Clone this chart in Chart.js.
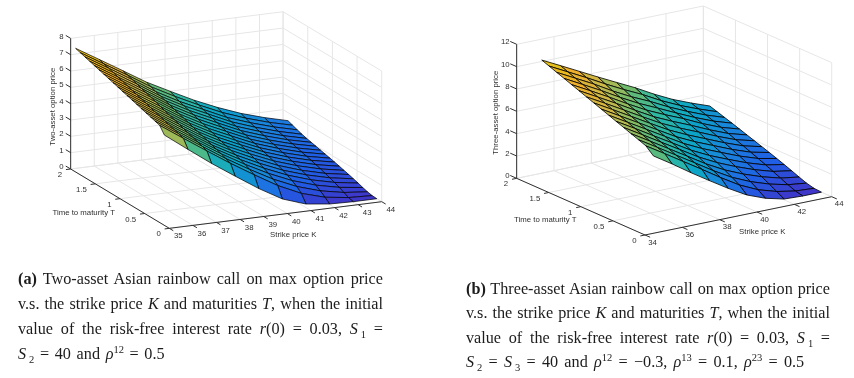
<!DOCTYPE html>
<html><head><meta charset="utf-8">
<script src="https://cdn.jsdelivr.net/npm/chart.js@4"></script>
<style>
html,body{margin:0;padding:0;background:#fff;width:854px;height:378px;overflow:hidden}
canvas{position:absolute;top:0;filter:blur(0.35px)}
#ca{left:0}#cb{left:430px}
.ln{position:absolute;font-family:"Liberation Serif",serif;font-size:16.2px;line-height:20px;color:#1c1c1c;white-space:nowrap;text-align:justify;text-align-last:justify;filter:blur(0.25px)}
.ln.last{text-align-last:left;word-spacing:1.6px}
.ln sub,.ln sup{font-size:10.5px;line-height:0}
.ln sub{margin-left:3px}
</style></head><body>
<canvas id="ca" width="427" height="258"></canvas>
<canvas id="cb" width="424" height="262"></canvas>
<div class="ln" style="left:18px;top:269px;width:365px"><b>(a)</b> Two-asset Asian rainbow call on max option price</div>
<div class="ln" style="left:18px;top:294px;width:365px">v.s. the strike price <i>K</i> and maturities <i>T</i>, when the initial</div>
<div class="ln" style="left:18px;top:319px;width:365px">value of the risk-free interest rate <i>r</i>(0) = 0.03, <i>S</i><sub>1</sub> =</div>
<div class="ln last" style="left:18px;top:344px;width:365px"><i>S</i><sub>2</sub> = 40 and <i>ρ</i><sup>12</sup> = 0.5</div>
<div class="ln" style="left:466px;top:278.5px;width:364px"><b>(b)</b> Three-asset Asian rainbow call on max option price</div>
<div class="ln" style="left:466px;top:302.5px;width:364px">v.s. the strike price <i>K</i> and maturities <i>T</i>, when the initial</div>
<div class="ln" style="left:466px;top:327.5px;width:364px">value of the risk-free interest rate <i>r</i>(0) = 0.03, <i>S</i><sub>1</sub> =</div>
<div class="ln last" style="left:466px;top:352px;width:364px;word-spacing:2.2px"><i>S</i><sub>2</sub> = <i>S</i><sub>3</sub> = 40 and <i>ρ</i><sup>12</sup> = −0.3, <i>ρ</i><sup>13</sup> = 0.1, <i>ρ</i><sup>23</sup> = 0.5</div>
<script>
// ---------- data ----------
const strikes = [35,36,37,38,39,40,41,42,43,44];
const maturitiesA = [0.1,0.195,0.289,0.384,0.479,0.574,0.668,0.763,0.858,0.953,1.047,1.142,1.237,1.332,1.426,1.521,1.616,1.711,1.805,1.9];
const maturitiesB = [0.16,0.276,0.392,0.508,0.624,0.74,0.856,0.972,1.088,1.204,1.32,1.436,1.552,1.668,1.784,1.9];
// one list per strike, one value per maturity
const priceA35 = [5.53,5.95,6.04,6.13,6.22,6.31,6.40,6.49,6.58,6.67,6.76,6.85,6.94,7.03,7.12,7.21,7.30,7.39,7.48,7.57];
const priceA36 = [4.47,4.98,5.08,5.17,5.27,5.36,5.46,5.55,5.65,5.75,5.84,5.94,6.03,6.13,6.23,6.32,6.42,6.52,6.61,6.71];
const priceA37 = [3.43,4.02,4.13,4.23,4.33,4.43,4.53,4.63,4.73,4.83,4.93,5.03,5.14,5.24,5.34,5.44,5.54,5.64,5.74,5.84];
const priceA38 = [2.47,3.08,3.20,3.32,3.42,3.52,3.62,3.72,3.82,3.92,4.02,4.12,4.22,4.32,4.42,4.52,4.62,4.72,4.84,4.96];
const priceA39 = [1.53,2.20,2.36,2.50,2.62,2.73,2.84,2.94,3.04,3.14,3.24,3.34,3.44,3.54,3.64,3.74,3.84,3.94,4.08,4.22];
const priceA40 = [0.71,1.36,1.58,1.76,1.91,2.04,2.16,2.27,2.38,2.48,2.58,2.68,2.78,2.87,2.97,3.07,3.17,3.27,3.38,3.50];
const priceA41 = [0.22,0.70,0.95,1.14,1.30,1.43,1.55,1.66,1.76,1.86,1.95,2.04,2.13,2.22,2.31,2.40,2.50,2.60,2.73,2.87];
const priceA42 = [0.04,0.28,0.50,0.68,0.83,0.96,1.07,1.18,1.28,1.37,1.46,1.55,1.63,1.72,1.81,1.90,1.99,2.09,2.20,2.32];
const priceA43 = [0,0.08,0.22,0.36,0.49,0.60,0.70,0.80,0.89,0.98,1.06,1.14,1.22,1.30,1.38,1.46,1.55,1.65,1.76,1.88];
const priceA44 = [0,0.02,0.08,0.17,0.27,0.36,0.45,0.53,0.61,0.69,0.76,0.83,0.90,0.97,1.04,1.11,1.19,1.29,1.40,1.51];
const priceB35 = [6.33,6.93,7.19,7.44,7.70,7.95,8.21,8.46,8.72,8.97,9.23,9.48,9.74,9.99,10.25,10.5];
const priceB36 = [5.27,5.90,6.17,6.44,6.71,6.98,7.24,7.51,7.78,8.05,8.32,8.59,8.85,9.12,9.39,9.66];
const priceB37 = [4.15,4.85,5.13,5.42,5.70,5.98,6.27,6.55,6.83,7.11,7.40,7.68,7.96,8.25,8.53,8.81];
const priceB38 = [3.09,3.80,4.10,4.40,4.70,4.99,5.29,5.58,5.87,6.16,6.45,6.73,7.01,7.29,7.63,7.96];
const priceB39 = [2.06,2.72,3.05,3.37,3.69,4.00,4.31,4.62,4.93,5.23,5.53,5.83,6.13,6.43,6.78,7.13];
const priceB40 = [1.12,1.72,2.11,2.48,2.84,3.18,3.51,3.83,4.15,4.46,4.77,5.07,5.37,5.67,5.99,6.31];
const priceB41 = [0.48,0.95,1.38,1.77,2.14,2.49,2.82,3.14,3.45,3.76,4.07,4.37,4.59,4.83,5.10,5.40];
const priceB42 = [0.07,0.45,0.82,1.18,1.52,1.84,2.15,2.45,2.75,3.04,3.32,3.59,3.84,4.09,4.33,4.58];
const priceB43 = [0,0.15,0.42,0.72,1.02,1.31,1.59,1.86,2.13,2.39,2.65,2.91,3.17,3.42,3.67,3.91];
const priceB44 = [0,0.05,0.22,0.47,0.74,1.00,1.25,1.49,1.72,1.95,2.18,2.41,2.64,2.86,3.08,3.30];
// tick labels
const kTicksA = [35,36,37,38,39,40,41,42,43,44];
const kTicksB = [34,36,38,40,42,44];
const tTicks = [0,0.5,1,1.5,2];
const zTicksA = [0,1,2,3,4,5,6,7,8];
const zTicksB = [0,2,4,6,8,10,12];
// ---------- colour map ----------
const parula = ['#3f35c8','#1f5fe6','#1a84dc','#0ba4c8','#2eb7a4','#6fbb6c','#c8b84a','#f0ae2a','#e0cc10'];
function rgb(h){return [1,3,5].map(i=>parseInt(h.substr(i,2),16));}
function mapColor(f){f=Math.max(0,Math.min(1,f))*(parula.length-1);const i=Math.min(parula.length-2,Math.floor(f)),a=rgb(parula[i]),b=rgb(parula[i+1]),t=f-i;
  return 'rgb('+a.map((v,j)=>Math.round(v+(b[j]-v)*t)).join(',')+')';}
const GRID='#e6e6e6',AXIS='#303030',FONT='"Liberation Sans",Arial,sans-serif';
const fillFaces={id:'fillFaces',beforeDatasetDraw(chart,args){
  const ds=chart.data.datasets[args.index]; if(!ds.face) return;
  const pts=args.meta.data,ctx=chart.ctx; ctx.save(); ctx.beginPath();
  pts.forEach((p,i)=>i?ctx.lineTo(p.x,p.y):ctx.moveTo(p.x,p.y)); ctx.closePath();
  ctx.fillStyle=ds.face; ctx.fill(); ctx.restore();
}};
function build(id,c){
  const P=(k,t,z)=>({x:c.ox+(k-c.kMin)*c.kx+(2-t)*c.tx, y:c.oy+(k-c.kMin)*c.ky+(2-t)*c.ty+z*c.zy});
  const ds=[];
  const line=(pts,col,w)=>ds.push({data:pts,showLine:true,borderColor:col,borderWidth:w,pointRadius:0,clip:false,tension:0});
  const kMax=c.kTicks[c.kTicks.length-1], zMax=c.zTicks[c.zTicks.length-1];
  // walls and floor grid
  c.kTicks.forEach(k=>{line([P(k,2,0),P(k,2,zMax)],GRID,1);line([P(k,0,0),P(k,2,0)],GRID,1);});
  c.tTicks.forEach(t=>{line([P(kMax,t,0),P(kMax,t,zMax)],GRID,1);line([P(c.kMin,t,0),P(kMax,t,0)],GRID,1);});
  c.zTicks.forEach(z=>{line([P(c.kMin,2,z),P(kMax,2,z)],GRID,1);line([P(kMax,2,z),P(kMax,0,z)],GRID,1);});
  // axes with ticks
  line([P(c.kMin,2,0),P(c.kMin,2,zMax)],AXIS,1);
  line([P(c.kMin,2,0),P(c.kMin,0,0)],AXIS,1);
  line([P(c.kMin,0,0),P(kMax,0,0)],AXIS,1);
  c.zTicks.forEach(z=>line([P(c.kMin,2,z),P(c.kMin,2.1,z)],AXIS,1));
  c.tTicks.forEach(t=>line([P(c.kMin,t,0),P(c.kMin-c.tickK,t,0)],AXIS,1));
  c.kTicks.forEach(k=>line([P(k,0,0),P(k,-0.08,0)],AXIS,1));
  // surface, far faces first
  for(let j=c.T.length-2;j>=0;j--)for(let i=strikes.length-2;i>=0;i--){
    const z=c.Z, a=z[i][j],b=z[i+1][j],d=z[i+1][j+1],e=z[i][j+1];
    ds.push({data:[P(strikes[i],c.T[j],a),P(strikes[i+1],c.T[j],b),P(strikes[i+1],c.T[j+1],d),P(strikes[i],c.T[j+1],e),P(strikes[i],c.T[j],a)],
      face:mapColor((a+b+d+e)/4/c.cMax),showLine:true,borderColor:'#000',borderWidth:c.edge,pointRadius:0,clip:false,tension:0,borderJoinStyle:'bevel'});
  }
  ds.reverse(); // Chart.js paints the last dataset first
  const labels={id:'labels',afterDraw(chart){
    const g=chart.ctx,sx=chart.scales.x,sy=chart.scales.y,px=p=>[sx.getPixelForValue(p.x),sy.getPixelForValue(p.y)];
    g.save();g.fillStyle=AXIS;g.font=c.fs+'px '+FONT;g.textBaseline='middle';
    g.textAlign='right';
    c.zTicks.forEach(z=>{const[a,b]=px(P(c.kMin,2,z));g.fillText(String(z),a-7,b-2);});
    c.tTicks.forEach(t=>{const[a,b]=px(P(c.kMin,t,0));g.fillText(String(t),a-8.5,b+6);});
    g.textAlign='center';
    c.kTicks.forEach(k=>{const[a,b]=px(P(k,0,0));g.fillText(String(k),a+c.kLab[0],b+c.kLab[1]);});
    c.text.forEach(t=>{g.save();g.translate(t.x,t.y);if(t.rot)g.rotate(-Math.PI/2);g.fillText(t.s,0,0);g.restore();});
    g.restore();
  }};
  const W=document.getElementById(id).width,H=document.getElementById(id).height;
  new Chart(document.getElementById(id),{type:'scatter',data:{datasets:ds},plugins:[fillFaces,labels],options:{
    responsive:false,animation:false,devicePixelRatio:1,layout:{padding:0},events:[],
    plugins:{legend:{display:false},tooltip:{enabled:false},title:{display:false}},
    scales:{x:{type:'linear',min:0,max:W,display:false},y:{type:'linear',min:0,max:H,reverse:true,display:false}}}});
}
build('ca',{kMin:35,ox:70.67,oy:169,kx:23.6,ky:-2.96,tx:49.33,ty:29.67,zy:-16.33,
  kTicks:kTicksA,tTicks:tTicks,zTicks:zTicksA,T:maturitiesA,cMax:7.57,edge:0.7,tickK:0.2,fs:7.8,kLab:[9,8],
  Z:[priceA35,priceA36,priceA37,priceA38,priceA39,priceA40,priceA41,priceA42,priceA43,priceA44],
  text:[{s:'Two-asset option price',x:52.7,y:106.7,rot:true},{s:'Time to maturity T',x:83.7,y:213.3},{s:'Strike price K',x:293.3,y:235.3}]});
build('cb',{kMin:34,ox:86.67,oy:178.33,kx:18.67,ky:-3.83,tx:64.17,ty:28.33,zy:-11.17,
  kTicks:kTicksB,tTicks:tTicks,zTicks:zTicksB,T:maturitiesB,cMax:10.5,edge:0.8,tickK:0.25,fs:7.8,kLab:[7.5,7.5],
  Z:[priceB35,priceB36,priceB37,priceB38,priceB39,priceB40,priceB41,priceB42,priceB43,priceB44],
  text:[{s:'Three-asset option price',x:65.7,y:112.7,rot:true},{s:'Time to maturity T',x:115.3,y:220},{s:'Strike price K',x:332.3,y:232.3}]});
</script>
</body></html>
